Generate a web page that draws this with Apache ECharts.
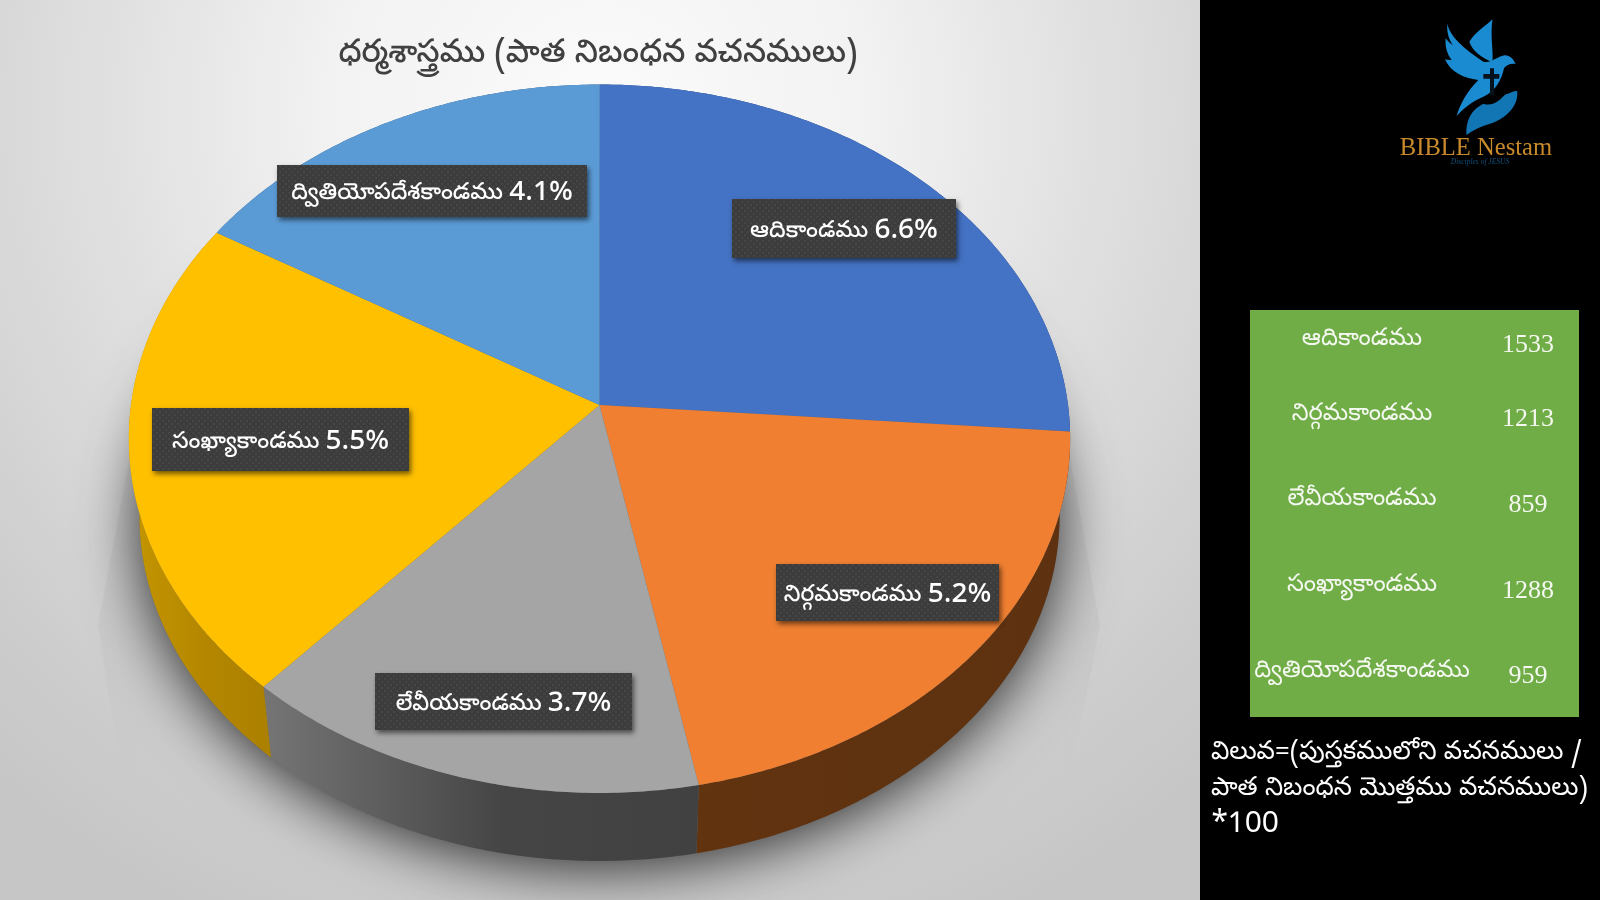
<!DOCTYPE html>
<html>
<head>
<meta charset="utf-8">
<style>html,body{margin:0;padding:0;background:#000}#c{width:1600px;height:900px}</style>
<script src="https://cdn.jsdelivr.net/npm/echarts@6/dist/echarts.min.js"></script>
</head>
<body>
<div id="c"></div>
<script>
// ---- data ----
const title = 'ధర్మశాస్త్రము (పాత నిబంధన వచనములు)';
const books = ['ఆదికాండము', 'నిర్గమకాండము', 'లేవీయకాండము', 'సంఖ్యాకాండము', 'ద్వితియోపదేశకాండము'];
const verses = [1533, 1213, 859, 1288, 959];
const percents = ['6.6%', '5.2%', '3.7%', '5.5%', '4.1%'];
const formulaLines = ['విలువ=(పుస్తకములోని వచనములు /', 'పాత నిబంధన మొత్తము వచనములు)', '*100'];

// ---- styles / layout ----
const topColors = ['#4472c4', '#f07f31', '#a5a5a5', '#ffc000', '#5b9bd5'];
const sideColors = [['#2a4478','#2a4478','#2a4478'], ['#62330f','#5f3210','#5e3110'], ['#757575','#454545','#414141'], ['#c49600','#b48600','#ab8000'], ['#375d80','#375d80','#375d80']];
const labelBoxes = [[732,199,224,59],[776,564,223,57],[375,673,257,57],[152,408,257,63],[277,165,310,52]];
const FONT = '"Noto Sans Telugu","Noto Sans","DejaVu Sans",sans-serif';
const top3d = {cx:599.5, cy:405, a:468.5, b:351, p:0.0952};
const bot3d = {cx:599.5, cy:483, a:458, b:342, p:0.0952};

function proj(g, t){
  const w = Math.cos(t), d = 1 + g.p*w;
  return [g.cx + g.a*Math.sin(t)/d, g.cy - g.b*w/d];
}
function arc(g, t0, t1){
  const n = Math.max(2, Math.ceil((t1-t0)/0.01)), pts = [];
  for(let i=0;i<=n;i++) pts.push(proj(g, t0+(t1-t0)*i/n));
  return pts;
}
const total = verses.reduce((s,v)=>s+v,0);
function sliceAngles(idx){
  let c = 0;
  for(let i=0;i<idx;i++) c += verses[i];
  return [c/total*2*Math.PI, (c+verses[idx])/total*2*Math.PI];
}

const pat = document.createElement('canvas');
pat.width = 6; pat.height = 6;
(function(){
  const x = pat.getContext('2d');
  x.fillStyle = '#3c3c3c'; x.fillRect(0,0,6,6);
  x.fillStyle = '#454545'; x.fillRect(0,0,2,2); x.fillRect(3,3,2,2);
})();

const renderSide = (params, api) => {
  const idx = api.value(0), [t0,t1] = sliceAngles(idx);
  const rim = arc(top3d,t0,t1).concat(arc(bot3d,t0,t1).reverse());
  const grad = new echarts.graphic.LinearGradient(0,0,1,0,[{offset:0,color:sideColors[idx][0]},{offset:0.55,color:sideColors[idx][1]},{offset:1,color:sideColors[idx][2]}]);
  return {type:'polygon', shape:{points:rim}, style:{fill:grad}};
};
const renderTop = (params, api) => {
  const idx = api.value(0), [t0,t1] = sliceAngles(idx);
  return {type:'polygon',
    shape:{points:[[top3d.cx,top3d.cy]].concat(arc(top3d,t0,t1))},
    style:{fill:topColors[idx]}};
};
const renderLabel = (params, api) => {
  const idx = api.value(0), b = labelBoxes[idx];
  return {type:'group', children:[
    {type:'rect', shape:{x:b[0],y:b[1],width:b[2],height:b[3]},
     style:{fill:'#3e3e3e', shadowColor:'rgba(0,0,0,0.55)', shadowBlur:5, shadowOffsetX:2, shadowOffsetY:3}},
    {type:'rect', shape:{x:b[0],y:b[1],width:b[2],height:b[3]},
     style:{fill:{image:pat, repeat:'repeat'}}},
    {type:'text', style:{x:b[0]+b[2]/2, y:b[1]+b[3]/2+5,
      text:'{t|'+books[idx]+'}{g| }{n|'+percents[idx]+'}',
      align:'center', verticalAlign:'middle',
      rich:{
        t:{fill:'#ffffff', font:'500 23px '+FONT, verticalAlign:'middle'},
        g:{fill:'#ffffff', font:'22px '+FONT, verticalAlign:'middle'},
        n:{fill:'#ffffff', font:'500 28px '+FONT, verticalAlign:'middle'}
      }}}
  ]};
};

const graphics = [
  {type:'rect', z:0, shape:{x:0,y:0,width:1200,height:900},
   style:{fill:new echarts.graphic.RadialGradient(600,110,900,[
     {offset:0,color:'#fbfbfb'},{offset:0.3,color:'#f2f2f2'},{offset:0.55,color:'#e0e0e0'},
     {offset:0.85,color:'#cdcdcd'},{offset:1,color:'#c6c6c6'}],true)}},
  {type:'polygon', z:1, shape:{points:[[135,430],[98,625],[130,830],[1060,830],[1100,625],[1065,430]]},
   style:{fill:new echarts.graphic.LinearGradient(0,0,0,1,[
     {offset:0,color:'rgba(120,120,120,0.10)'},{offset:0.5,color:'rgba(120,120,120,0.07)'},{offset:0.85,color:'rgba(120,120,120,0)'}])}},
  {type:'rect', z:0, shape:{x:1200,y:0,width:400,height:900}, style:{fill:'#000000'}},
  {type:'rect', z:1, shape:{x:1250,y:310,width:329,height:407}, style:{fill:'#70ad47'}},
  {type:'text', z:3, style:{x:598,y:57,text:title,fill:'#404040',font:'500 32px '+FONT,align:'center',verticalAlign:'middle'}}
];
const tableRowY = [[342,345],[417,419],[502,505],[588,591],[674,676]];
books.forEach((b,i)=>{
  graphics.push({type:'text', z:3, style:{x:1362,y:tableRowY[i][0],text:b,fill:'#f4f8f0',font:'24px '+FONT,align:'center',verticalAlign:'middle'}});
  graphics.push({type:'text', z:3, style:{x:1528,y:tableRowY[i][1],text:String(verses[i]),fill:'#f4f8f0',font:'26px "Liberation Serif",serif',align:'center',verticalAlign:'middle'}});
});
formulaLines.forEach((l,i)=>{
  graphics.push({type:'text', z:3, style:{x:1211,y:[755,791,828][i],text:l,fill:'#ffffff',font:(i===2?'30px ':'25.8px ')+FONT,align:'left',verticalAlign:'middle'}});
});
// logo text
graphics.push(
  {type:'text', z:3, style:{x:1476,y:149,text:'BIBLE Nestam',fill:'#c88a2a',font:'24.6px "Liberation Serif",serif',align:'center',verticalAlign:'middle'}},
  {type:'text', z:3, style:{x:1480,y:162,text:'Disciples of JESUS',fill:'#13507c',font:'italic 7.5px "Liberation Serif",serif',align:'center',verticalAlign:'middle'}}
);

// logo artwork: outline path, and its box in the page
const logoParts = [
  {d:'M742 72C750 110 790 145 850 185C870 192 890 170 915 166C930 166 940 178 947 192C930 190 920 195 912 205C905 240 885 275 850 290C815 305 790 325 770 348C780 310 805 270 835 240C790 235 750 215 735 178C745 180 750 180 755 180C740 160 735 140 737 115C745 125 750 130 758 135C745 115 740 95 742 72Z', box:[735,72,947,348], fill:'#1a8bd0'},
  {d:'M875 58C860 75 830 90 808 125C815 150 845 175 875 186C878 150 868 110 875 58Z', box:[808,58,878,186], fill:'#1a8bd0'},
  {d:'M800 405C798 360 815 330 850 312C880 322 900 300 915 285C930 280 945 272 950 275C955 320 915 355 875 370C845 378 820 390 800 405Z', box:[799,273,952,405], fill:'#1276b4'},
  {d:'M870 205H882V222H898V236H882V285H870V236H850V222H870Z', box:[850,205,898,285], fill:'#06121c'}
];
const renderLogo = (params, api) => {
  const p = logoParts[api.value(0)], b = p.box;
  return {type:'path',
    shape:{pathData:p.d, layout:'cover', x:1200+b[0]/3, y:b[1]/3, width:(b[2]-b[0])/3, height:(b[3]-b[1])/3},
    style:{fill:p.fill}};
};

const idxData = verses.map((v,i)=>[i,v]);
const chart = echarts.init(document.getElementById('c'), null, {renderer:'canvas', width:1600, height:900});
chart.setOption({
  animation:false,
  backgroundColor:'#000000',
  graphic:graphics,
  series:[
    {type:'custom', coordinateSystem:'none', z:2, silent:true, data:[[0]],
     renderItem:()=>({type:'polygon',
       shape:{points:arc(bot3d,0,2*Math.PI)},
       style:{fill:'#666', shadowColor:'rgba(0,0,0,0.8)', shadowBlur:60, shadowOffsetY:8}})},
    {type:'custom', coordinateSystem:'none', z:3, silent:true, data:idxData, renderItem:renderSide},
    {type:'custom', coordinateSystem:'none', z:4, silent:true, data:idxData, renderItem:renderTop},
    {type:'custom', coordinateSystem:'none', z:5, silent:true, data:idxData, renderItem:renderLabel},
    {type:'custom', coordinateSystem:'none', z:6, silent:true, data:logoParts.map((p,i)=>[i]), renderItem:renderLogo}
  ]
});
</script>
</body>
</html>
